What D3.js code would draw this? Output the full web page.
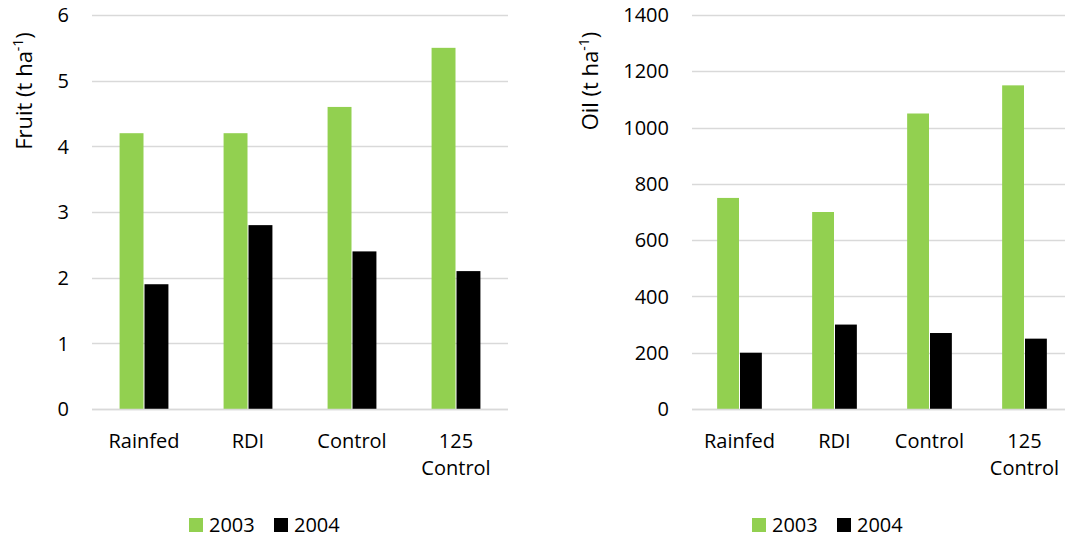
<!DOCTYPE html>
<html>
<head>
<meta charset="utf-8">
<script src="https://cdn.jsdelivr.net/npm/d3@7/dist/d3.min.js"></script>
<style>
  html, body { margin: 0; padding: 0; background: #fff; }
  svg { display: block; font-family: "Open Sans", sans-serif; }
</style>
</head>
<body>
<svg id="chart" width="1065" height="537"></svg>
<script>
// Treatments and yields per season
const categories = [["Rainfed"], ["RDI"], ["Control"], ["125", "Control"]];
const seriesNames = ["2003", "2004"];
const seriesColors = ["#92d050", "#000000"];

const fruit2003 = [4.2, 4.2, 4.6, 5.5];
const fruit2004 = [1.9, 2.8, 2.4, 2.1];
const fruitTicks = [0, 1, 2, 3, 4, 5, 6];

const oil2003 = [750, 700, 1050, 1150];
const oil2004 = [200, 300, 270, 250];
const oilTicks = [0, 200, 400, 600, 800, 1000, 1200, 1400];

const svg = d3.select("#chart");

function panel(cfg) {
  const g = svg.append("g");
  const keys = categories.map((c, i) => i);
  const x = d3.scaleBand().domain(keys).range([cfg.x0, cfg.x1]).padding(0);
  const y = d3.scaleLinear().domain([0, d3.max(cfg.ticks)]).range([409, 15]);

  // gridlines
  g.append("g").selectAll("line").data(cfg.ticks).join("line")
    .attr("x1", cfg.x0).attr("x2", cfg.x1)
    .attr("y1", d => Math.round(y(d)) + 0.5).attr("y2", d => Math.round(y(d)) + 0.5)
    .attr("stroke", "#d9d9d9").attr("stroke-width", 1.5);

  // y tick labels
  g.append("g").selectAll("text").data(cfg.ticks).join("text")
    .attr("x", cfg.x0 - 23).attr("y", d => y(d))
    .attr("dy", "0.36em").attr("text-anchor", "end")
    .attr("font-size", 20).attr("fill", "#000")
    .text(d => d);

  // bars
  const barW = x.bandwidth() * 0.23;
  const series = [cfg.a, cfg.b];
  series.forEach((vals, s) => {
    g.append("g").selectAll("rect").data(vals).join("rect")
      .attr("x", (d, i) => x(i) + x.bandwidth() / 2 - barW + s * barW + (s === 0 ? -0.5 : 0.5))
      .attr("width", barW)
      .attr("y", d => y(d))
      .attr("height", d => y(0) - y(d))
      .attr("fill", seriesColors[s]);
  });

  // baseline
  g.append("line")
    .attr("x1", cfg.x0).attr("x2", cfg.x1)
    .attr("y1", 409.5).attr("y2", 409.5)
    .attr("stroke", "#d9d9d9").attr("stroke-width", 1.5);

  // category labels
  const cat = g.append("g").selectAll("text").data(categories).join("text")
    .attr("x", (d, i) => x(i) + x.bandwidth() / 2)
    .attr("y", 448).attr("text-anchor", "middle")
    .attr("font-size", 20).attr("fill", "#000");
  cat.each(function (lines, i) {
    d3.select(this).selectAll("tspan").data(lines).join("tspan")
      .attr("x", x(i) + x.bandwidth() / 2)
      .attr("dy", (l, j) => j === 0 ? 0 : 27)
      .text(l => l);
  });

  // axis title
  const t = g.append("text")
    .attr("transform", `translate(${cfg.titleX},${cfg.titleY}) rotate(-90)`)
    .attr("text-anchor", "middle").attr("font-size", 22).attr("fill", "#000");
  t.append("tspan").text(cfg.title + " (t ha");
  t.append("tspan").attr("font-size", 14).attr("dy", -9).text("-1");
  t.append("tspan").attr("dy", 9).text(")");

  // legend
  const lg = g.append("g");
  cfg.legend.forEach((lx, s) => {
    lg.append("rect").attr("x", lx).attr("y", 518).attr("width", 14).attr("height", 14)
      .attr("fill", seriesColors[s]);
    lg.append("text").attr("x", lx + 20).attr("y", 532)
      .attr("font-size", 20).attr("fill", "#000").text(seriesNames[s]);
  });
}

panel({ x0: 92, x1: 508, ticks: fruitTicks, a: fruit2003, b: fruit2004,
        title: "Fruit", titleX: 32, titleY: 91, legend: [189, 274] });
panel({ x0: 692, x1: 1072, ticks: oilTicks, a: oil2003, b: oil2004,
        title: "Oil", titleX: 598, titleY: 81, legend: [752, 837] });
</script>
</body>
</html>
